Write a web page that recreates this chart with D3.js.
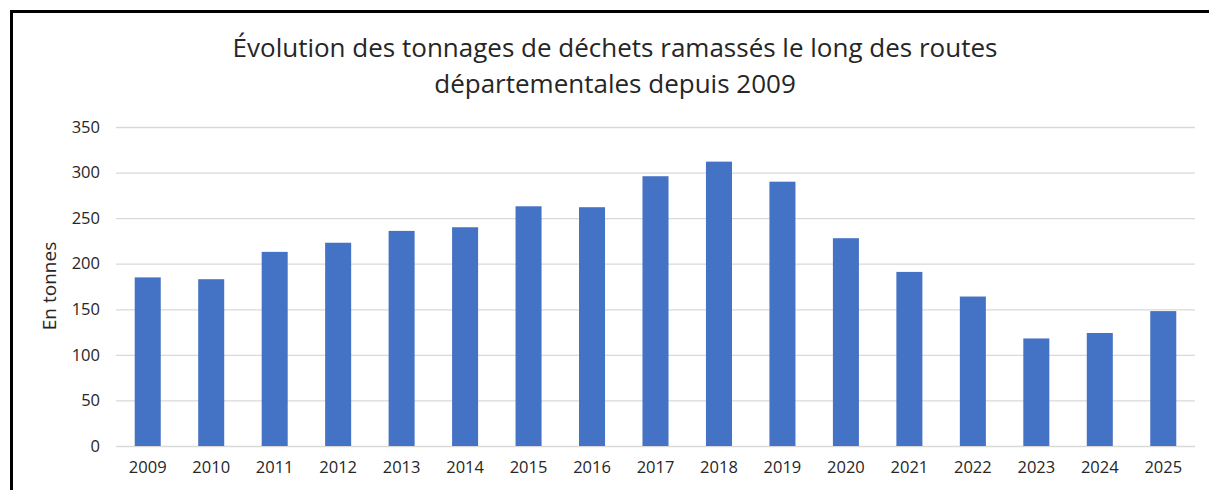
<html lang="fr">
  <head>
    <meta charset="utf-8" />
    <title>Déchets routes départementales</title>
    <style>
     body { margin: 0; background: #fff; }
     svg text { font-family: "Open Sans", sans-serif; fill: #262626; }
    </style>
  </head>
  <body>
    <div id="chart"></div>
    <script src="https://cdn.jsdelivr.net/npm/d3@7"></script>
    <script>

     var years = ["2009", "2010", "2011", "2012", "2013", "2014", "2015", "2016", "2017",
                  "2018", "2019", "2020", "2021", "2022", "2023", "2024", "2025"];
     var tonnes = [185, 183, 213, 223, 236, 240, 263, 262, 296,
                   312, 290, 228, 191, 164, 118, 124, 148];
     var yTicks = [0, 50, 100, 150, 200, 250, 300, 350];
     var titleLines = ["Évolution des tonnages de déchets ramassés le long des routes",
                       "départementales depuis 2009"];

     var width = 1209, height = 490;
     var margin = {left: 116, right: 14, top: 127, bottom: 44};

     var svg = d3.select("#chart")
                 .append("svg")
                 .attr("width", width)
                 .attr("height", height);

     // frame (only left and top edges are inside the picture)
     svg.append("rect")
        .attr("x", 11.5).attr("y", 11.5)
        .attr("width", 1220).attr("height", 520)
        .attr("fill", "none")
        .attr("stroke", "#000")
        .attr("stroke-width", 3);

     var x = d3.scaleBand()
               .domain(years)
               .range([margin.left, width - margin.right])
               .paddingInner(0.59)
               .paddingOuter(0.295);

     var y = d3.scaleLinear()
               .domain([0, 350])
               .range([height - margin.bottom, margin.top]);

     // grid lines
     svg.append("g")
        .attr("transform", "translate(" + margin.left + ",0)")
        .call(d3.axisLeft(y).tickValues(yTicks).tickSize(-(width - margin.left - margin.right)).tickFormat(""))
        .call(function(g) { g.select(".domain").remove(); })
        .selectAll("line")
        .attr("stroke", "#d9d9d9")
        .attr("stroke-width", 1.3);

     // y labels
     svg.append("g")
        .attr("transform", "translate(" + margin.left + ",0)")
        .call(d3.axisLeft(y).tickValues(yTicks).tickSize(0).tickPadding(16))
        .call(function(g) { g.select(".domain").remove(); g.selectAll("line").remove(); })
        .selectAll("text")
        .attr("font-size", 16.5)
        .style("font-family", "Open Sans, sans-serif")
        .attr("fill", "#262626");

     // x labels
     svg.append("g")
        .attr("transform", "translate(0," + (height - margin.bottom) + ")")
        .call(d3.axisBottom(x).tickSize(0).tickPadding(15))
        .call(function(g) { g.select(".domain").remove(); g.selectAll("line").remove(); })
        .selectAll("text")
        .attr("font-size", 16.5)
        .style("font-family", "Open Sans, sans-serif")
        .attr("fill", "#262626");

     // bars
     svg.append("g")
        .selectAll("rect")
        .data(years)
        .enter()
        .append("rect")
        .attr("x", function(d) { return x(d); })
        .attr("width", x.bandwidth())
        .attr("y", function(d, i) { return y(tonnes[i]); })
        .attr("height", function(d, i) { return y(0) - y(tonnes[i]); })
        .attr("fill", "#4472c4");

     // title
     svg.append("g")
        .selectAll("text")
        .data(titleLines)
        .enter()
        .append("text")
        .attr("x", 615)
        .attr("y", function(d, i) { return 57 + i * 36; })
        .attr("text-anchor", "middle")
        .attr("font-size", 26)
        .text(function(d) { return d; });

     // y axis title
     svg.append("text")
        .attr("transform", "translate(56,286) rotate(-90)")
        .attr("text-anchor", "middle")
        .attr("font-size", 19)
        .text("En tonnes");

    </script>
  </body>
</html>
